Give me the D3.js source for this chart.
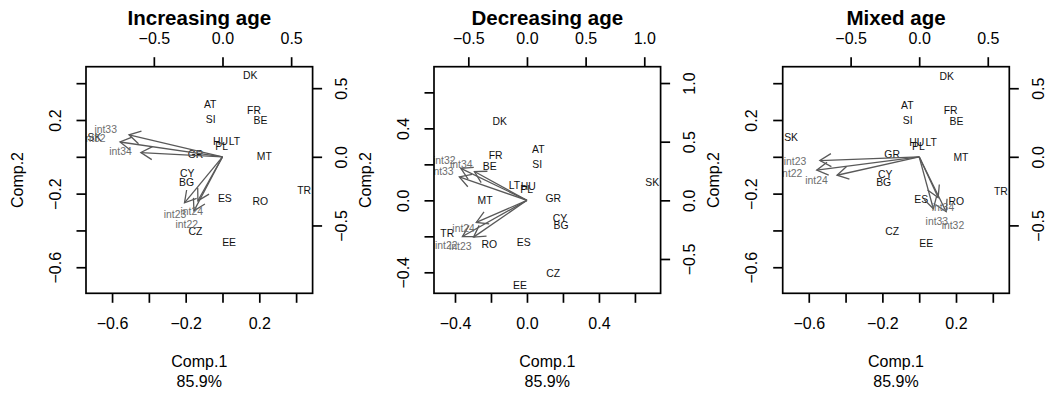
<!DOCTYPE html>
<html>
<head>
<meta charset="utf-8">
<script src="https://cdn.jsdelivr.net/npm/d3@7/dist/d3.min.js"></script>
<style>
  body { margin: 0; background: #fff; }
  svg { display: block; }
  text { font-family: "Liberation Sans", Arial, Helvetica, sans-serif; }
</style>
</head>
<body>
<div id="chart"></div>
<script>
// ---- data ----
const countries = ['AT', 'BE', 'BG', 'CY', 'CZ', 'DK', 'EE', 'ES', 'FR', 'GR', 'HU', 'LT', 'MT', 'PL', 'RO', 'SI', 'SK', 'TR'];
const variables = ['int22', 'int23', 'int24', 'int32', 'int33', 'int34'];

const titles = ['Increasing age', 'Decreasing age', 'Mixed age'];
const xLabel = 'Comp.1';
const xVariance = '85.9%';
const yLabel = 'Comp.2';

// scores (Comp.1, Comp.2)
const incScoreX = [-0.067, 0.206, -0.195, -0.191, -0.147, 0.151, 0.036, 0.013, 0.171, -0.147, -0.011, 0.065, 0.227, -0.005, 0.206, -0.064, -0.696, 0.444];
const incScoreY = [0.286, 0.196, -0.136, -0.091, -0.404, 0.442, -0.465, -0.227, 0.255, 0.016, 0.082, 0.084, 0.004, 0.060, -0.240, 0.204, 0.107, -0.182];
const decScoreX = [0.063, -0.207, 0.189, 0.183, 0.146, -0.152, -0.039, -0.018, -0.174, 0.146, 0.007, -0.070, -0.233, -0.002, -0.209, 0.057, 0.696, -0.443];
const decScoreY = [0.282, 0.189, -0.139, -0.098, -0.403, 0.439, -0.470, -0.231, 0.252, 0.013, 0.078, 0.082, 0.000, 0.059, -0.242, 0.200, 0.100, -0.185];
const mixScoreX = [-0.065, 0.203, -0.193, -0.185, -0.147, 0.149, 0.038, 0.011, 0.171, -0.147, -0.013, 0.065, 0.227, -0.004, 0.202, -0.062, -0.696, 0.444];
const mixScoreY = [0.282, 0.193, -0.140, -0.094, -0.407, 0.438, -0.469, -0.231, 0.251, 0.015, 0.078, 0.080, 0.000, 0.056, -0.244, 0.200, 0.104, -0.185];

// loadings
const incLoadX = [-0.260, -0.346, -0.224, -0.933, -0.851, -0.743];
const incLoadY = [-0.492, -0.419, -0.400, 0.135, 0.200, 0.039];
const decLoadX = [-0.688, -0.569, -0.540, -0.705, -0.721, -0.560];
const decLoadY = [-0.386, -0.392, -0.235, 0.341, 0.250, 0.307];
const mixLoadX = [-0.934, -0.905, -0.749, 0.246, 0.129, 0.173];
const mixLoadY = [-0.122, -0.034, -0.168, -0.500, -0.473, -0.371];

// axis ticks (R drops the labels that would overlap)
const incScoreTicks = [-0.6, -0.4, -0.2, 0, 0.2, 0.4];
const incScoreLabels = [-0.6, -0.2, 0.2];
const decScoreTicks = [-0.4, -0.2, 0, 0.2, 0.4, 0.6];
const decScoreLabels = [-0.4, 0, 0.4];
const incLoadTicks = [-0.5, 0, 0.5];
const decLoadTicks = [-0.5, 0, 0.5, 1.0];

const panels = [
  { title: titles[0], sx: incScoreX, sy: incScoreY, lx: incLoadX, ly: incLoadY, sTicks: incScoreTicks, sLabels: incScoreLabels, lTicks: incLoadTicks, left: 86 },
  { title: titles[1], sx: decScoreX, sy: decScoreY, lx: decLoadX, ly: decLoadY, sTicks: decScoreTicks, sLabels: decScoreLabels, lTicks: decLoadTicks, left: 434 },
  { title: titles[2], sx: mixScoreX, sy: mixScoreY, lx: mixLoadX, ly: mixLoadY, sTicks: incScoreTicks, sLabels: incScoreLabels, lTicks: incLoadTicks, left: 782.7 },
];

// ---- layout ----
const W = 1050, H = 396;
const boxTop = 66.7, size = 226.6;
const tickLen = 9.5;
const axisColor = '#000';
const arrowColor = '#595959';
const varColor = '#6e6e6e';

const svg = d3.select('#chart').append('svg')
  .attr('width', W)
  .attr('height', H);

// same as R's unsigned.range in biplot.default
function unsignedRange(v) {
  return [-Math.abs(d3.min(v)), Math.abs(d3.max(v))];
}

const fmt = d3.format('.1f');

panels.forEach((p, i) => {
  const rx = unsignedRange(p.sx), ry = unsignedRange(p.sy);
  const lim = [Math.min(rx[0], ry[0]), Math.max(rx[1], ry[1])];
  const r1 = unsignedRange(p.lx), r2 = unsignedRange(p.ly);
  const ratio = Math.max(r1[0] / lim[0], r1[1] / lim[1], r2[0] / lim[0], r2[1] / lim[1]);
  const pad = (lim[1] - lim[0]) * 0.04;
  const ext = [lim[0] - pad, lim[1] + pad];

  const L = p.left, R = p.left + size, B = boxTop + size;

  // score scales
  const x = d3.scaleLinear().domain(ext).range([L, R]);
  const y = d3.scaleLinear().domain(ext).range([B, boxTop]);
  // loading scales
  const x2 = d3.scaleLinear().domain(ext.map(d => d * ratio)).range([L, R]);
  const y2 = d3.scaleLinear().domain(ext.map(d => d * ratio)).range([B, boxTop]);

  const g = svg.append('g');

  const clipId = 'clip' + i;
  svg.append('clipPath').attr('id', clipId)
    .append('rect').attr('x', L).attr('y', boxTop).attr('width', size).attr('height', size);

  const inner = g.append('g').attr('clip-path', `url(#${clipId})`);

  // country labels
  inner.selectAll('.obs')
    .data(countries)
    .enter()
    .append('text')
    .attr('x', (d, j) => x(p.sx[j]))
    .attr('y', (d, j) => y(p.sy[j]))
    .attr('dy', '0.36em')
    .attr('text-anchor', 'middle')
    .style('font-size', '10.4px')
    .style('fill', '#111')
    .text(d => d);

  // arrows to 0.8 of the loading, like biplot()
  const headLen = 13, headAng = Math.PI / 6;
  variables.forEach((v, j) => {
    const x0 = x2(0), y0 = y2(0);
    const x1 = x2(p.lx[j] * 0.8), y1 = y2(p.ly[j] * 0.8);
    const a = Math.atan2(y1 - y0, x1 - x0);
    inner.append('line')
      .attr('x1', x0).attr('y1', y0).attr('x2', x1).attr('y2', y1)
      .attr('stroke', arrowColor).attr('stroke-width', 1.3);
    inner.append('path')
      .attr('d', `M${x1 - headLen * Math.cos(a - headAng)},${y1 - headLen * Math.sin(a - headAng)}L${x1},${y1}L${x1 - headLen * Math.cos(a + headAng)},${y1 - headLen * Math.sin(a + headAng)}`)
      .attr('fill', 'none')
      .attr('stroke', arrowColor).attr('stroke-width', 1.3);
  });

  // variable labels
  inner.selectAll('.var')
    .data(variables)
    .enter()
    .append('text')
    .attr('x', (d, j) => x2(p.lx[j]))
    .attr('y', (d, j) => y2(p.ly[j]))
    .attr('dy', '0.36em')
    .attr('text-anchor', 'middle')
    .style('font-size', '10.4px')
    .style('fill', varColor)
    .text(d => d);

  // box
  g.append('rect')
    .attr('x', L).attr('y', boxTop).attr('width', size).attr('height', size)
    .attr('fill', 'none').attr('stroke', axisColor).attr('stroke-width', 1.7);

  const labelFmt = d => (p.sLabels.some(s => Math.abs(s - d) < 1e-9) ? fmt(d) : '');

  // bottom axis
  const ax1 = g.append('g').attr('transform', `translate(0, ${B})`)
    .call(d3.axisBottom(x).tickValues(p.sTicks).tickFormat(labelFmt).tickSize(tickLen));
  ax1.selectAll('text').attr('y', 30).attr('dy', '0.36em');

  // left axis
  const ax2 = g.append('g').attr('transform', `translate(${L}, 0)`)
    .call(d3.axisLeft(y).tickValues(p.sTicks).tickFormat(labelFmt).tickSize(tickLen));
  ax2.selectAll('text')
    .attr('x', 0).attr('y', 0).attr('dy', '0.36em')
    .attr('text-anchor', 'middle')
    .attr('transform', 'translate(-31, 0) rotate(-90)');

  // top axis (loadings)
  const ax3 = g.append('g').attr('transform', `translate(0, ${boxTop})`)
    .call(d3.axisTop(x2).tickValues(p.lTicks).tickFormat(fmt).tickSize(tickLen));
  ax3.selectAll('text').attr('y', -28.4).attr('dy', '0.36em');

  // right axis (loadings)
  const ax4 = g.append('g').attr('transform', `translate(${R}, 0)`)
    .call(d3.axisRight(y2).tickValues(p.lTicks).tickFormat(fmt).tickSize(tickLen));
  ax4.selectAll('text')
    .attr('x', 0).attr('y', 0).attr('dy', '0.36em')
    .attr('text-anchor', 'middle')
    .attr('transform', 'translate(28.5, 0) rotate(-90)');

  [ax1, ax2, ax3, ax4].forEach(ax => {
    ax.select('.domain').remove();
    ax.selectAll('line').attr('stroke', axisColor).attr('stroke-width', 1.7);
    ax.selectAll('text')
      .style('font-family', '"Liberation Sans", Arial, Helvetica, sans-serif')
      .style('font-size', '16px')
      .attr('fill', '#000');
  });

  // title
  g.append('text')
    .attr('x', (L + R) / 2)
    .attr('y', 17.3)
    .attr('dy', '0.36em')
    .attr('text-anchor', 'middle')
    .style('font-size', '20.5px')
    .style('font-weight', 'bold')
    .text(p.title);

  // x label
  g.append('text')
    .attr('x', (L + R) / 2)
    .attr('y', B + 68.4)
    .attr('dy', '0.36em')
    .attr('text-anchor', 'middle')
    .style('font-size', '16px')
    .text(xLabel);
  g.append('text')
    .attr('x', (L + R) / 2)
    .attr('y', B + 88.4)
    .attr('dy', '0.36em')
    .attr('text-anchor', 'middle')
    .style('font-size', '16px')
    .text(xVariance);

  // y label
  g.append('text')
    .attr('transform', `translate(${L - 69}, ${(boxTop + B) / 2}) rotate(-90)`)
    .attr('dy', '0.36em')
    .attr('text-anchor', 'middle')
    .style('font-size', '16px')
    .text(yLabel);
});
</script>
</body>
</html>
